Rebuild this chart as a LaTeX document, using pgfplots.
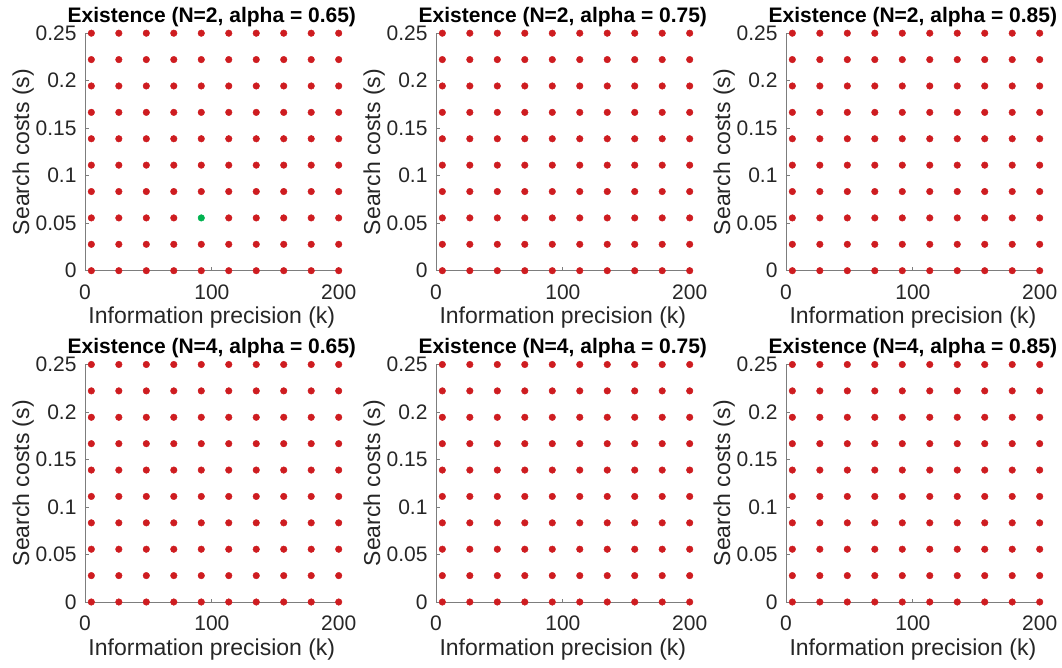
\documentclass[border=0pt]{standalone}
\usepackage{fontspec}
\setmainfont{Liberation Sans}
\usepackage{pgfplots}
\usepackage{pgfplotstable}
\pgfplotsset{compat=1.18}
\definecolor{dotred}{RGB}{206,28,32}
\definecolor{dotgreen}{RGB}{0,178,80}
\definecolor{axgray}{RGB}{125,125,125}
\definecolor{txt}{RGB}{38,38,38}

% full 10 x 10 grid (all red)
\pgfplotstableread{
x y
5 0
26.667 0
48.333 0
70 0
91.667 0
113.333 0
135 0
156.667 0
178.333 0
200 0
5 0.027778
26.667 0.027778
48.333 0.027778
70 0.027778
91.667 0.027778
113.333 0.027778
135 0.027778
156.667 0.027778
178.333 0.027778
200 0.027778
5 0.055556
26.667 0.055556
48.333 0.055556
70 0.055556
91.667 0.055556
113.333 0.055556
135 0.055556
156.667 0.055556
178.333 0.055556
200 0.055556
5 0.083333
26.667 0.083333
48.333 0.083333
70 0.083333
91.667 0.083333
113.333 0.083333
135 0.083333
156.667 0.083333
178.333 0.083333
200 0.083333
5 0.111111
26.667 0.111111
48.333 0.111111
70 0.111111
91.667 0.111111
113.333 0.111111
135 0.111111
156.667 0.111111
178.333 0.111111
200 0.111111
5 0.138889
26.667 0.138889
48.333 0.138889
70 0.138889
91.667 0.138889
113.333 0.138889
135 0.138889
156.667 0.138889
178.333 0.138889
200 0.138889
5 0.166667
26.667 0.166667
48.333 0.166667
70 0.166667
91.667 0.166667
113.333 0.166667
135 0.166667
156.667 0.166667
178.333 0.166667
200 0.166667
5 0.194444
26.667 0.194444
48.333 0.194444
70 0.194444
91.667 0.194444
113.333 0.194444
135 0.194444
156.667 0.194444
178.333 0.194444
200 0.194444
5 0.222222
26.667 0.222222
48.333 0.222222
70 0.222222
91.667 0.222222
113.333 0.222222
135 0.222222
156.667 0.222222
178.333 0.222222
200 0.222222
5 0.25
26.667 0.25
48.333 0.25
70 0.25
91.667 0.25
113.333 0.25
135 0.25
156.667 0.25
178.333 0.25
200 0.25
}\gridall

% first panel: grid without the green point
\pgfplotstableread{
x y
5 0
26.667 0
48.333 0
70 0
91.667 0
113.333 0
135 0
156.667 0
178.333 0
200 0
5 0.027778
26.667 0.027778
48.333 0.027778
70 0.027778
91.667 0.027778
113.333 0.027778
135 0.027778
156.667 0.027778
178.333 0.027778
200 0.027778
5 0.055556
26.667 0.055556
48.333 0.055556
70 0.055556
113.333 0.055556
135 0.055556
156.667 0.055556
178.333 0.055556
200 0.055556
5 0.083333
26.667 0.083333
48.333 0.083333
70 0.083333
91.667 0.083333
113.333 0.083333
135 0.083333
156.667 0.083333
178.333 0.083333
200 0.083333
5 0.111111
26.667 0.111111
48.333 0.111111
70 0.111111
91.667 0.111111
113.333 0.111111
135 0.111111
156.667 0.111111
178.333 0.111111
200 0.111111
5 0.138889
26.667 0.138889
48.333 0.138889
70 0.138889
91.667 0.138889
113.333 0.138889
135 0.138889
156.667 0.138889
178.333 0.138889
200 0.138889
5 0.166667
26.667 0.166667
48.333 0.166667
70 0.166667
91.667 0.166667
113.333 0.166667
135 0.166667
156.667 0.166667
178.333 0.166667
200 0.166667
5 0.194444
26.667 0.194444
48.333 0.194444
70 0.194444
91.667 0.194444
113.333 0.194444
135 0.194444
156.667 0.194444
178.333 0.194444
200 0.194444
5 0.222222
26.667 0.222222
48.333 0.222222
70 0.222222
91.667 0.222222
113.333 0.222222
135 0.222222
156.667 0.222222
178.333 0.222222
200 0.222222
5 0.25
26.667 0.25
48.333 0.25
70 0.25
91.667 0.25
113.333 0.25
135 0.25
156.667 0.25
178.333 0.25
200 0.25
}\gridone

\pgfplotstableread{
x y
91.667 0.055556
}\greenpt

\pgfplotsset{panel/.style={
  scale only axis, width=253.7pt, height=237.5pt,
  xmin=0, xmax=200, ymin=0, ymax=0.25, clip=false,
  axis x line*=bottom, axis y line*=left,
  axis line style={axgray, line width=0.8pt, -},
  xtick={0,100,200}, ytick={0,0.05,0.1,0.15,0.2,0.25},
  scaled y ticks=false, scaled x ticks=false,
  yticklabel style={/pgf/number format/fixed, /pgf/number format/precision=2},
  /pgf/number format/assume math mode=true,
  tick align=inside, major tick length=3.5pt,
  tick style={axgray, line width=0.8pt},
  ticklabel style={font=\fontsize{21}{25}\selectfont, text=txt},
  xticklabel style={anchor=base, yshift=-28.5pt, inner sep=0pt},
  yticklabel style={anchor=east, xshift=-8.3pt, inner sep=0pt},
  xlabel={Information precision (k)}, ylabel={Search costs (s)},
  label style={font=\fontsize{23}{27}\selectfont, text=txt},
  xlabel style={at={(axis description cs:0.5,-0.2232)}, anchor=base, inner sep=0pt},
  ylabel style={at={(axis description cs:-0.2207,0.5)}, anchor=base, inner sep=0pt},
  title style={at={(axis description cs:0.5,1.021)}, anchor=base,
    font=\bfseries\fontsize{21}{25}\selectfont, inner sep=0pt, text=black},
  anchor=south west,
  every axis plot/.append style={only marks, mark=*, mark size=3.3pt},
}}

\begin{document}
\begin{tikzpicture}
\useasboundingbox (0pt,0pt) rectangle (1062pt,667pt);
% row 1
\begin{axis}[panel, at={(85pt,396.3pt)}, title={Existence (N=2, alpha = 0.65)}]
\addplot[mark options={fill=dotred, draw=dotred}] table {\gridone};
\addplot[mark options={fill=dotgreen, draw=dotgreen}] table {\greenpt};
\end{axis}
\begin{axis}[panel, at={(436pt,396.3pt)}, title={Existence (N=2, alpha = 0.75)}]
\addplot[mark options={fill=dotred, draw=dotred}] table {\gridall};
\end{axis}
\begin{axis}[panel, at={(786pt,396.3pt)}, title={Existence (N=2, alpha = 0.85)}]
\addplot[mark options={fill=dotred, draw=dotred}] table {\gridall};
\end{axis}
% row 2
\begin{axis}[panel, at={(85pt,65pt)}, title={Existence (N=4, alpha = 0.65)}]
\addplot[mark options={fill=dotred, draw=dotred}] table {\gridall};
\end{axis}
\begin{axis}[panel, at={(436pt,65pt)}, title={Existence (N=4, alpha = 0.75)}]
\addplot[mark options={fill=dotred, draw=dotred}] table {\gridall};
\end{axis}
\begin{axis}[panel, at={(786pt,65pt)}, title={Existence (N=4, alpha = 0.85)}]
\addplot[mark options={fill=dotred, draw=dotred}] table {\gridall};
\end{axis}
\end{tikzpicture}
\end{document}
